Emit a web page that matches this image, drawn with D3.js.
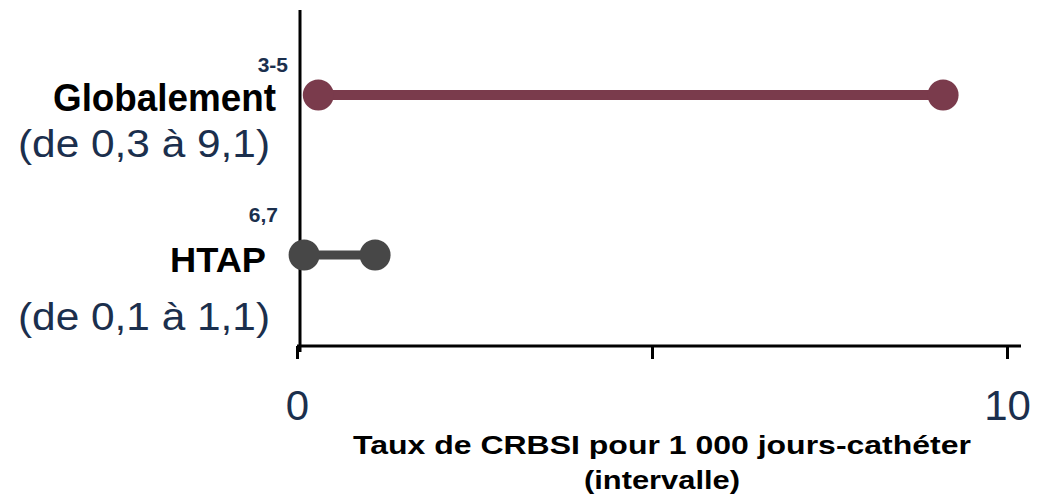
<!DOCTYPE html>
<html>
<head>
<meta charset="utf-8">
<script src="https://cdn.jsdelivr.net/npm/d3@7"></script>
<style>
  body { margin: 0; background: #fff; }
  svg { font-family: "Liberation Sans", Arial, sans-serif; }
</style>
</head>
<body>
<div id="chart"></div>
<script>
var w = 1037
var h = 502

// data
var groups = ["Globalement", "HTAP"]
var refs = ["3-5", "6,7"]
var lows = [0.3, 0.1]
var highs = [9.1, 1.1]
var tickValues = [0, 5, 10]
var tickLabels = ["0", "", "10"]

var colors = ["#7a3b4c", "#474747"]
var lineWidths = [10, 9]
var navy = "#1b2f4d"

// per-row label offsets (from row centre)
var supDy = [-23, -33]
var supX = [288, 278]
var nameDy = [16, 17]
var nameX = [276, 266]
var rangeDy = [62, 75]
var nameSize = [39, 35]
var nameLen = [223, 96]

var svg = d3.select("#chart").append("svg").attr("width", w).attr("height", h)

var x = d3.scaleLinear().domain([0, 10]).range([297, 1007])
var y = d3.scalePoint().domain(groups).range([95, 255])
var axisY = 346

// x axis
var xAxis = d3.axisBottom(x)
    .tickValues(tickValues)
    .tickSize(13)
    .tickSizeOuter(0)
    .tickPadding(27)
    .tickFormat(function(d, i) { return tickLabels[i] })

var gx = svg.append("g")
    .attr("transform", "translate(0," + axisY + ")")
    .call(xAxis)
gx.select(".domain").remove()
gx.selectAll(".tick line").attr("stroke", "#000").attr("stroke-width", 3)
gx.selectAll(".tick text")
    .attr("fill", navy)
    .attr("font-size", 42)
    .attr("font-family", "Liberation Sans, Arial, sans-serif")
    .attr("dy", "0.8em")
gx.append("line")
    .attr("x1", x(0)).attr("x2", x(10) + 14)
    .attr("stroke", "#000").attr("stroke-width", 3)

// y axis line
svg.append("line")
    .attr("x1", 300).attr("x2", 300)
    .attr("y1", 10).attr("y2", axisY + 6)
    .attr("stroke", "#000").attr("stroke-width", 3)

// dumbbells
for (var i = 0; i < groups.length; i++) {
    var cy = y(groups[i])
    svg.append("line")
        .attr("x1", x(lows[i])).attr("x2", x(highs[i]))
        .attr("y1", cy).attr("y2", cy)
        .attr("stroke", colors[i])
        .attr("stroke-width", lineWidths[i])
    svg.selectAll("circle.row" + i)
        .data([lows[i], highs[i]])
        .enter()
        .append("circle")
        .attr("class", "row" + i)
        .attr("cx", function(d) { return x(d) })
        .attr("cy", cy)
        .attr("r", 15.5)
        .attr("fill", colors[i])

    // labels
    svg.append("text")
        .text(refs[i])
        .attr("x", supX[i]).attr("y", cy + supDy[i])
        .attr("text-anchor", "end")
        .attr("font-size", 21).attr("font-weight", "bold")
        .attr("fill", navy)
    svg.append("text")
        .text(groups[i])
        .attr("x", nameX[i]).attr("y", cy + nameDy[i])
        .attr("text-anchor", "end")
        .attr("font-size", nameSize[i]).attr("font-weight", "bold")
        .attr("textLength", nameLen[i]).attr("lengthAdjust", "spacingAndGlyphs")
        .attr("fill", "#000")
    svg.append("text")
        .text("(de " + String(lows[i]).replace(".", ",") + " à " + String(highs[i]).replace(".", ",") + ")")
        .attr("x", 270).attr("y", cy + rangeDy[i])
        .attr("text-anchor", "end")
        .attr("font-size", 38)
        .attr("textLength", 252).attr("lengthAdjust", "spacingAndGlyphs")
        .attr("fill", navy)
}

// axis title
svg.append("text")
    .text("Taux de CRBSI pour 1 000 jours-cathéter")
    .attr("x", 662).attr("y", 454)
    .attr("text-anchor", "middle")
    .attr("font-size", 25).attr("font-weight", "bold")
    .attr("textLength", 618).attr("lengthAdjust", "spacingAndGlyphs")
svg.append("text")
    .text("(intervalle)")
    .attr("x", 662).attr("y", 489)
    .attr("text-anchor", "middle")
    .attr("font-size", 25).attr("font-weight", "bold")
    .attr("textLength", 156).attr("lengthAdjust", "spacingAndGlyphs")
</script>
</body>
</html>
